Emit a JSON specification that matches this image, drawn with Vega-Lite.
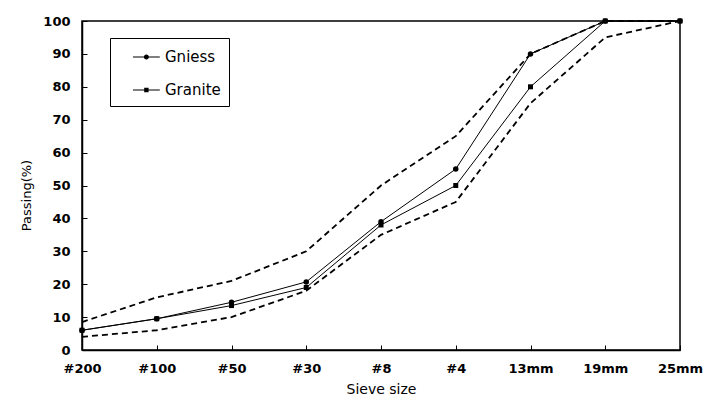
{
  "$schema": "https://vega.github.io/schema/vega-lite/v6.json",
  "width": 598,
  "height": 329,
  "autosize": {"type": "none"},
  "padding": {"left": 82, "top": 21, "right": 26, "bottom": 57},
  "background": "white",
  "config": {
    "view": {"stroke": "black", "strokeWidth": 1.5},
    "axis": {
      "domainColor": "black",
      "domainWidth": 1.5,
      "tickColor": "black",
      "labelColor": "black",
      "titleColor": "black",
      "grid": false,
      "labelFont": "DejaVu Sans",
      "labelFontWeight": "bold",
      "labelFontSize": 13,
      "titleFont": "DejaVu Sans",
      "titleFontWeight": "normal",
      "titleFontSize": 13
    }
  },
  "datasets": {
    "main": [
      {"size": "#200", "series": "Gniess", "v": 6},
      {"size": "#100", "series": "Gniess", "v": 9.5},
      {"size": "#50", "series": "Gniess", "v": 14.5},
      {"size": "#30", "series": "Gniess", "v": 20.7},
      {"size": "#8", "series": "Gniess", "v": 39},
      {"size": "#4", "series": "Gniess", "v": 55},
      {"size": "13mm", "series": "Gniess", "v": 90},
      {"size": "19mm", "series": "Gniess", "v": 100},
      {"size": "25mm", "series": "Gniess", "v": 100},
      {"size": "#200", "series": "Granite", "v": 6},
      {"size": "#100", "series": "Granite", "v": 9.5},
      {"size": "#50", "series": "Granite", "v": 13.5},
      {"size": "#30", "series": "Granite", "v": 19},
      {"size": "#8", "series": "Granite", "v": 38},
      {"size": "#4", "series": "Granite", "v": 50},
      {"size": "13mm", "series": "Granite", "v": 80},
      {"size": "19mm", "series": "Granite", "v": 100},
      {"size": "25mm", "series": "Granite", "v": 100}
    ],
    "limits": [
      {"size": "#200", "series": "Upper", "v": 8.5},
      {"size": "#100", "series": "Upper", "v": 16},
      {"size": "#50", "series": "Upper", "v": 21},
      {"size": "#30", "series": "Upper", "v": 30},
      {"size": "#8", "series": "Upper", "v": 50},
      {"size": "#4", "series": "Upper", "v": 65},
      {"size": "13mm", "series": "Upper", "v": 90},
      {"size": "19mm", "series": "Upper", "v": 100},
      {"size": "25mm", "series": "Upper", "v": 100},
      {"size": "#200", "series": "Lower", "v": 4},
      {"size": "#100", "series": "Lower", "v": 6},
      {"size": "#50", "series": "Lower", "v": 10},
      {"size": "#30", "series": "Lower", "v": 18},
      {"size": "#8", "series": "Lower", "v": 35},
      {"size": "#4", "series": "Lower", "v": 45},
      {"size": "13mm", "series": "Lower", "v": 75},
      {"size": "19mm", "series": "Lower", "v": 95},
      {"size": "25mm", "series": "Lower", "v": 100}
    ]
  },
  "encoding": {
    "x": {
      "field": "size",
      "type": "ordinal",
      "scale": {"type": "point", "padding": 0, "domain": ["#200", "#100", "#50", "#30", "#8", "#4", "13mm", "19mm", "25mm"]},
      "axis": {"title": "Sieve size", "titleFontSize": 14, "labelAngle": 0, "tickSize": -5, "labelPadding": 17, "titlePadding": 7}
    },
    "y": {
      "field": "v",
      "type": "quantitative",
      "scale": {"domain": [0, 100], "nice": false},
      "axis": {"title": "Passing(%)", "values": [0, 10, 20, 30, 40, 50, 60, 70, 80, 90, 100], "tickSize": -5, "labelPadding": 17, "titlePadding": 9, "titleY": 174}
    }
  },
  "layer": [
    {
      "data": {"name": "limits"},
      "mark": {"type": "line", "color": "black", "strokeWidth": 1.8, "strokeDash": [6, 4]},
      "encoding": {"detail": {"field": "series"}}
    },
    {
      "data": {"name": "main"},
      "mark": {"type": "line", "color": "black", "strokeWidth": 1},
      "encoding": {"detail": {"field": "series"}}
    },
    {
      "data": {"name": "main"},
      "transform": [{"filter": "datum.series === 'Gniess'"}],
      "mark": {"type": "point", "shape": "circle", "filled": true, "color": "black", "size": 30, "opacity": 1}
    },
    {
      "data": {"name": "main"},
      "transform": [{"filter": "datum.series === 'Granite'"}],
      "mark": {"type": "point", "shape": "square", "filled": true, "color": "black", "size": 25, "opacity": 1}
    },
    {
      "data": {"name": "main"},
      "transform": [{"filter": "datum.v < 0"}],
      "mark": {"type": "point", "filled": true, "color": "black", "opacity": 1},
      "encoding": {
        "shape": {
          "field": "series",
          "type": "nominal",
          "scale": {
            "domain": ["Gniess", "Granite"],
            "range": [
              "M0.36,-0.045H2.8V0.045H0.36ZM1.81,0A0.23,0.23,0,1,1,1.35,0A0.23,0.23,0,1,1,1.81,0Z",
              "M0.36,-0.045H2.8V0.045H0.36ZM1.38,-0.2H1.78V0.2H1.38Z"
            ]
          },
          "legend": {
            "orient": "none",
            "legendX": 28,
            "legendY": 17,
            "title": null,
            "direction": "vertical",
            "strokeColor": "black",
            "fillColor": "white",
            "padding": 8,
            "symbolSize": 484,
            "symbolStrokeWidth": 0,
            "symbolFillColor": "black",
            "symbolOpacity": 1,
            "labelFont": "DejaVu Sans",
            "labelFontSize": 15,
            "labelColor": "black",
            "labelOffset": 25,
            "labelExpr": "datum.label + '\u00a0\u00a0\u00a0\u00a0\u00a0'",
            "rowPadding": 14
          }
        }
      }
    }
  ]
}
